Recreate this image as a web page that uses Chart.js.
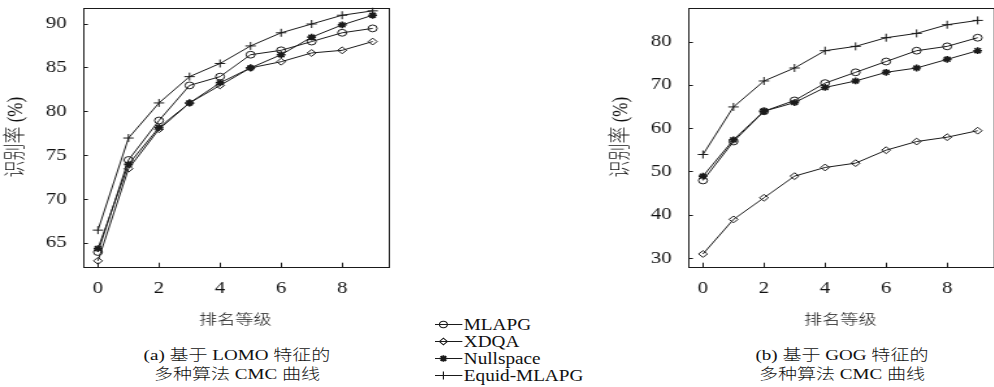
<!DOCTYPE html>
<html>
<head>
<meta charset="utf-8">
<script src="https://cdn.jsdelivr.net/npm/chart.js@4.4.1/dist/chart.umd.min.js"></script>
<style>
  html, body { margin: 0; padding: 0; background: #fff; }
  body { width: 994px; height: 387px; overflow: hidden; position: relative; color: #111;
         font-family: 'Liberation Serif', 'Noto Sans CJK SC', serif; }
  .panel { position: absolute; top: 0; transform: scaleX(1.3); transform-origin: 0 0; }
  .caption { position: absolute; top: 346px; width: 260px; text-align: center; font-size: 15px; font-weight: 300;
             line-height: 19px; transform: scaleX(1.27); transform-origin: 50% 0; white-space: nowrap; }
  #legend { position: absolute; left: 435px; top: 316px; transform: scaleX(1.2); transform-origin: 0 0;
            font-size: 16px; }
  #legend .row { display: flex; align-items: center; height: 17px; white-space: nowrap; }
  #legend svg { margin-right: 1px; }
</style>
</head>
<body>
<div class="panel" id="panelA"><canvas id="lomoChart" width="304" height="332" style="width:304px;height:332px"></canvas></div>
<div class="panel" id="panelB"><canvas id="gogChart" width="304" height="332" style="width:304px;height:332px"></canvas></div>
<div id="legend"></div>
<div class="caption" style="left:107px">(a) 基于 LOMO 特征的<br>多种算法 CMC 曲线</div>
<div class="caption" style="left:712px">(b) 基于 GOG 特征的<br>多种算法 CMC 曲线</div>
<script>
const ranks = [0, 1, 2, 3, 4, 5, 6, 7, 8, 9]
const xTicks = [0, 2, 4, 6, 8]
const lomoTicks = [65, 70, 75, 80, 85, 90]
const gogTicks = [30, 40, 50, 60, 70, 80]
const seriesNames = ['MLAPG', 'XDQA', 'Nullspace', 'Equid-MLAPG']

// (a) LOMO
const lomoMLAPG = [64, 74.5, 79, 83, 84, 86.5, 87, 88, 89, 89.5]
const lomoXDQA = [63, 73.5, 78, 81, 83, 85, 85.7, 86.7, 87, 88]
const lomoNullspace = [64.4, 74, 78.2, 81, 83.3, 85, 86.5, 88.5, 89.9, 91]
const lomoEquid = [66.5, 77, 81, 84, 85.5, 87.5, 89, 90, 91, 91.5]

// (b) GOG
const gogMLAPG = [48, 57, 64, 66.5, 70.5, 73, 75.5, 78, 79, 81]
const gogXDQA = [31, 39, 44, 49, 51, 52, 55, 57, 58, 59.5]
const gogNullspace = [49, 57.4, 64, 66, 69.5, 71, 73, 74, 76, 78]
const gogEquid = [54, 65, 71, 74, 78, 79, 81, 82, 84, 85]

const markers = ['circle', 'rectRot', 'star', 'cross']
const ink = '#1a1a1a'

// the source figure is stretched sideways, panels are drawn narrow and scaled up
const S = 1.3
const plotLeft = 82.7 / S
const plotTop = 7.7
const plotBottom = 266.7
const canvasH = 332

document.getElementById('panelB').style.left = (687.3 - 82.7) + 'px'

const serif = "'Liberation Serif', serif"
const mixed = "'Liberation Serif', 'Noto Sans CJK SC', serif"

const framePlugin = {
    id: 'frame',
    beforeDatasetsDraw(chart) {
        const { ctx, chartArea: a } = chart
        ctx.save()
        ctx.strokeStyle = ink
        ctx.lineWidth = 1
        ctx.strokeRect(Math.round(a.left) + 0.5, Math.round(a.top) + 0.5,
            Math.round(a.right - a.left), Math.round(a.bottom - a.top))
        ctx.restore()
    }
}

function noPad(s) {
    s.paddingTop = 0
    s.paddingBottom = 0
    s.paddingLeft = 0
    s.paddingRight = 0
}

function makeChart(id, series, yMin, yMax, yTicks) {
    return new Chart(document.getElementById(id), {
        type: 'line',
        data: {
            labels: ranks,
            datasets: series.map((data, i) => ({
                label: seriesNames[i],
                data,
                borderColor: ink,
                borderWidth: 1,
                tension: 0,
                pointStyle: markers[i],
                pointRadius: markers[i] === 'cross' ? 4 : 3.4,
                pointBorderWidth: markers[i] === 'star' ? 1.6 : 1,
                pointBorderColor: ink,
                pointBackgroundColor: 'rgba(0,0,0,0)'
            }))
        },
        options: {
            responsive: false,
            animation: false,
            events: [],
            layout: { padding: { top: plotTop, right: 2, left: 0, bottom: 0 } },
            plugins: { legend: { display: false }, tooltip: { enabled: false } },
            scales: {
                x: {
                    type: 'linear',
                    min: -0.5,
                    max: 9.5,
                    afterBuildTicks: s => { s.ticks = xTicks.map(value => ({ value })) },
                    afterFit: s => { noPad(s); s.height = canvasH - plotBottom },
                    border: { display: false },
                    grid: { drawOnChartArea: false, drawTicks: true, tickLength: -4, color: ink },
                    ticks: { padding: 16.7, color: '#111', maxRotation: 0, autoSkip: false,
                             font: { family: serif, size: 16 } },
                    title: { display: true, text: '排名等级', color: '#111',
                             font: { family: mixed, size: 14, weight: 300 }, padding: { top: 0, bottom: 3.6 } }
                },
                y: {
                    min: yMin,
                    max: yMax,
                    afterBuildTicks: s => { s.ticks = yTicks.map(value => ({ value })) },
                    afterFit: s => { noPad(s); s.width = plotLeft },
                    border: { display: false },
                    grid: { drawOnChartArea: false, drawTicks: true, tickLength: -4, color: ink },
                    ticks: { padding: 16.3, color: '#111', font: { family: serif, size: 16 } },
                    title: { display: true, text: '识别率 (%)', color: '#111',
                             font: { family: mixed, size: 17, weight: 300 }, padding: { top: 2.5, bottom: 0 } }
                }
            }
        },
        plugins: [framePlugin]
    })
}

makeChart('lomoChart', [lomoMLAPG, lomoXDQA, lomoNullspace, lomoEquid], 62.33, 91.86, lomoTicks)
makeChart('gogChart', [gogMLAPG, gogXDQA, gogNullspace, gogEquid], 28.06, 87.94, gogTicks)

// legend: line sample with its marker, then the name
function markerSvg(style) {
    const c = 7, m = 8.5, r = 3.3
    const st = `stroke="${ink}" fill="none"`
    if (style === 'circle') return `<circle cx="${c}" cy="${m}" r="${r}" ${st}/>`
    if (style === 'rectRot') return `<polygon points="${c - r},${m} ${c},${m - r} ${c + r},${m} ${c},${m + r}" ${st}/>`
    if (style === 'star') {
        const d = r * 0.707
        return `<path d="M${c - r} ${m}H${c + r}M${c} ${m - r}V${m + r}M${c - d} ${m - d}L${c + d} ${m + d}M${c - d} ${m + d}L${c + d} ${m - d}" ${st} stroke-width="1.6"/>`
    }
    return `<path d="M${c - 4} ${m}H${c + 4}M${c} ${m - 4}V${m + 4}" ${st}/>`
}

document.getElementById('legend').innerHTML = seriesNames.map((name, i) =>
    `<div class="row"><svg width="23" height="17"><line x1="0" y1="8.5" x2="23" y2="8.5" stroke="${ink}"/>${markerSvg(markers[i])}</svg>${name}</div>`
).join('')
</script>
</body>
</html>
